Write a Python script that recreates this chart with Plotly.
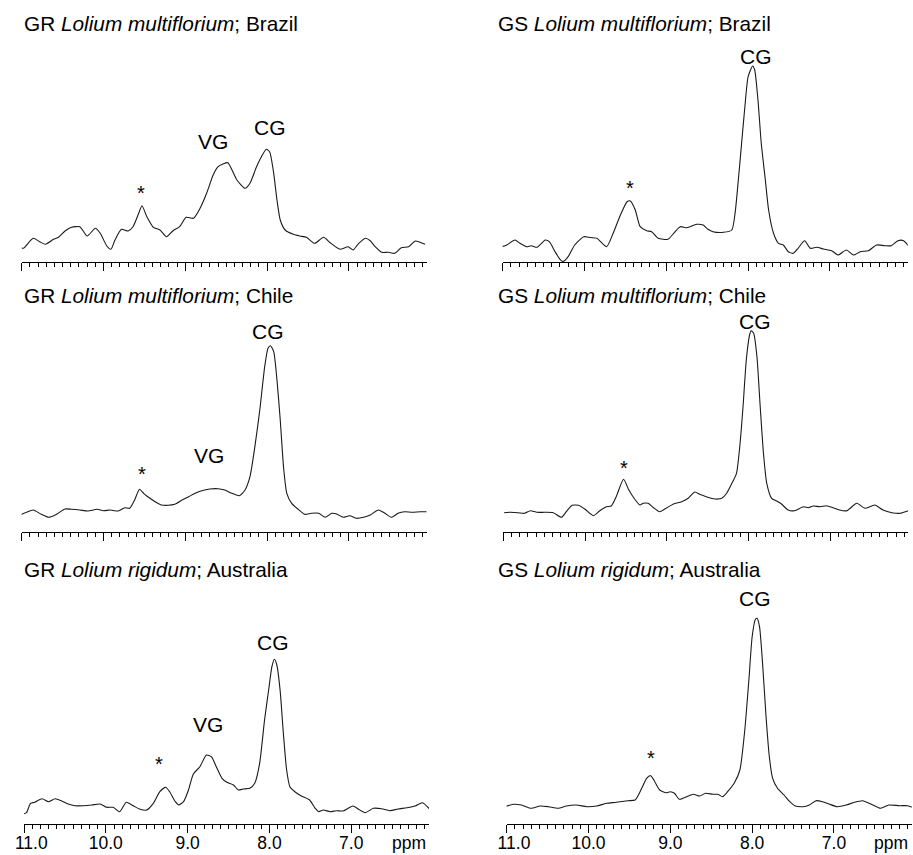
import plotly.graph_objects as go

W, H_FIG = 913, 855

# ---------------- data ----------------
titles = [
    ("GR", "Lolium multiflorium", "Brazil"),
    ("GS", "Lolium multiflorium", "Brazil"),
    ("GR", "Lolium multiflorium", "Chile"),
    ("GS", "Lolium multiflorium", "Chile"),
    ("GR", "Lolium rigidum", "Australia"),
    ("GS", "Lolium rigidum", "Australia"),
]

gr_brazil_ppm = [11.02, 10.98, 10.86, 10.78, 10.71, 10.61, 10.55, 10.47, 10.39, 10.29, 10.20, 10.10, 10.04, 9.96,
                 9.91, 9.86, 9.78, 9.70, 9.64, 9.57, 9.53, 9.47, 9.39, 9.31, 9.23, 9.15, 9.07, 8.99, 8.90, 8.82,
                 8.74, 8.66, 8.60, 8.54, 8.48, 8.43, 8.37, 8.27, 8.21, 8.13, 8.07, 8.01, 7.97, 7.92, 7.88, 7.84,
                 7.78, 7.68, 7.60, 7.52, 7.42, 7.31, 7.23, 7.11, 7.01, 6.95, 6.89, 6.80, 6.74, 6.68, 6.60, 6.52,
                 6.44, 6.36, 6.27, 6.19, 6.13, 6.07]
gr_brazil_int = [14.7, 13.7, 23.7, 20.3, 17.7, 22.7, 24.7, 31.0, 34.7, 35.3, 26.0, 33.7, 28.7, 16.0,
                 12.7, 22.0, 32.7, 31.0, 35.3, 48.7, 56.3, 45.3, 34.7, 32.0, 25.3, 31.3, 35.3, 44.7, 43.7, 53.7,
                 68.7, 87.0, 95.3, 98.0, 99.3, 92.0, 82.0, 73.7, 78.7, 95.3, 105.3, 112.7, 110.3, 88.7, 62.0, 42.0,
                 32.0, 27.7, 26.0, 24.7, 18.7, 24.7, 19.3, 12.7, 15.3, 12.0, 17.7, 23.7, 21.3, 15.3, 9.7, 9.7,
                 8.7, 14.3, 15.3, 21.0, 19.7, 17.7]

gs_brazil_ppm = [11.01, 10.95, 10.85, 10.79, 10.71, 10.65, 10.58, 10.48, 10.43, 10.36, 10.30, 10.26, 10.20, 10.12,
                 10.01, 9.95, 9.85, 9.73, 9.65, 9.57, 9.48, 9.44, 9.38, 9.32, 9.24, 9.18, 9.10, 8.98, 8.91, 8.83,
                 8.75, 8.63, 8.55, 8.49, 8.43, 8.30, 8.20, 8.16, 8.12, 8.08, 8.04, 8.00, 7.945, 7.92, 7.88, 7.84,
                 7.79, 7.75, 7.69, 7.63, 7.57, 7.51, 7.45, 7.39, 7.31, 7.24, 7.16, 7.08, 6.98, 6.90, 6.80, 6.71,
                 6.63, 6.53, 6.43, 6.33, 6.25, 6.17, 6.10, 6.04]
gs_brazil_int = [15.3, 17.0, 22.0, 18.7, 15.3, 16.3, 14.7, 22.0, 20.3, 10.3, 2.7, 0.5, 5.3, 17.0,
                 25.3, 24.7, 23.7, 15.3, 28.7, 45.3, 60.3, 61.0, 52.0, 35.3, 31.3, 30.3, 23.7, 22.7, 28.7, 35.3,
                 34.3, 37.7, 37.0, 32.7, 30.3, 29.7, 32.0, 48.7, 82.0, 118.7, 155.3, 185.3, 196.0, 192.0, 162.0, 118.7,
                 82.0, 52.0, 28.7, 18.7, 17.0, 10.3, 8.7, 13.7, 21.3, 13.7, 14.7, 13.0, 11.3, 7.0, 12.0, 7.0,
                 10.3, 11.3, 17.0, 16.3, 16.3, 21.3, 21.3, 16.0]

gr_chile_ppm = [11.02, 10.94, 10.86, 10.76, 10.67, 10.59, 10.47, 10.39, 10.29, 10.19, 10.08, 10.00, 9.92, 9.82,
                9.74, 9.68, 9.62, 9.56, 9.51, 9.45, 9.37, 9.29, 9.21, 9.13, 9.04, 8.96, 8.88, 8.80, 8.70, 8.60,
                8.52, 8.43, 8.34, 8.27, 8.21, 8.15, 8.09, 8.03, 7.99, 7.96, 7.92, 7.88, 7.84, 7.80, 7.76, 7.70,
                7.62, 7.54, 7.46, 7.37, 7.29, 7.21, 7.15, 7.07, 6.99, 6.91, 6.82, 6.74, 6.64, 6.56, 6.48, 6.40,
                6.32, 6.23, 6.13, 6.05]
gr_chile_int = [17.0, 19.7, 22.0, 17.7, 14.7, 17.0, 23.0, 22.7, 22.0, 21.0, 22.7, 21.3, 22.0, 21.0,
                24.3, 23.7, 32.0, 42.7, 38.7, 34.7, 30.3, 27.0, 26.7, 27.7, 32.0, 35.3, 38.7, 41.3, 43.0, 43.3,
                42.0, 38.7, 36.3, 42.0, 55.3, 85.3, 122.0, 165.3, 183.7, 186.3, 180.3, 152.0, 112.0, 65.3, 38.7, 28.7,
                22.7, 17.7, 18.7, 18.7, 14.7, 18.7, 18.0, 14.7, 16.3, 13.7, 14.7, 17.0, 22.0, 18.7, 14.7, 18.7,
                20.3, 19.7, 20.3, 20.3]

gs_chile_ppm = [10.99, 10.92, 10.82, 10.74, 10.67, 10.59, 10.49, 10.39, 10.29, 10.23, 10.16, 10.08, 10.00, 9.90,
                9.82, 9.74, 9.68, 9.62, 9.53, 9.47, 9.41, 9.33, 9.29, 9.23, 9.17, 9.09, 9.00, 8.92, 8.82, 8.74,
                8.66, 8.60, 8.52, 8.41, 8.33, 8.27, 8.21, 8.15, 8.11, 8.07, 8.03, 7.99, 7.97, 7.94, 7.90, 7.86,
                7.82, 7.78, 7.72, 7.66, 7.60, 7.52, 7.44, 7.33, 7.27, 7.21, 7.13, 7.05, 6.97, 6.89, 6.80, 6.68,
                6.58, 6.46, 6.36, 6.25, 6.15, 6.05]
gs_chile_int = [19.3, 19.7, 19.3, 18.7, 21.3, 19.7, 19.7, 19.3, 14.7, 20.3, 26.7, 26.7, 22.7, 16.3,
                21.3, 25.3, 26.0, 35.3, 52.7, 42.7, 34.7, 27.0, 28.7, 28.7, 24.7, 20.3, 24.3, 28.0, 30.3, 33.7,
                40.0, 37.7, 35.3, 33.0, 33.7, 38.7, 48.0, 58.7, 85.3, 125.3, 172.0, 197.0, 201.3, 198.7, 175.3, 125.3,
                78.7, 48.7, 33.7, 31.0, 28.0, 22.0, 21.3, 25.3, 24.3, 26.0, 25.3, 26.3, 24.3, 22.0, 21.3, 28.7,
                23.7, 27.0, 22.0, 19.3, 18.7, 21.3]

gr_australia_ppm = [11.01, 10.97, 10.92, 10.87, 10.78, 10.70, 10.62, 10.54, 10.46, 10.38, 10.27, 10.17, 10.07, 9.99,
                    9.91, 9.83, 9.75, 9.66, 9.58, 9.50, 9.42, 9.34, 9.27, 9.22, 9.15, 9.11, 9.05, 8.99, 8.93, 8.85,
                    8.77, 8.71, 8.65, 8.58, 8.52, 8.44, 8.38, 8.32, 8.24, 8.18, 8.12, 8.06, 8.01, 7.97, 7.94, 7.91,
                    7.87, 7.83, 7.79, 7.75, 7.69, 7.61, 7.51, 7.44, 7.40, 7.34, 7.26, 7.18, 7.10, 6.98, 6.91, 6.83,
                    6.73, 6.63, 6.53, 6.43, 6.32, 6.22, 6.13, 6.04]
gr_australia_int = [10.0, 11.3, 20.7, 21.7, 25.3, 22.3, 25.3, 23.0, 20.0, 18.3, 18.3, 19.0, 20.0, 16.7,
                    16.7, 12.3, 21.7, 18.0, 14.7, 14.0, 20.7, 32.3, 36.7, 32.3, 22.3, 19.0, 22.3, 34.0, 50.0, 57.3,
                    69.0, 67.3, 57.3, 45.7, 41.7, 39.0, 34.0, 35.0, 35.7, 40.7, 60.7, 104.0, 134.0, 157.3, 164.7, 159.0,
                    134.0, 90.7, 54.0, 37.3, 32.3, 28.0, 24.0, 15.7, 12.3, 14.0, 12.3, 13.3, 13.0, 18.0, 14.7, 11.3,
                    15.7, 15.3, 13.3, 15.0, 16.3, 18.0, 21.3, 14.7]

gs_australia_ppm = [11.02, 10.92, 10.82, 10.70, 10.59, 10.49, 10.37, 10.27, 10.15, 10.02, 9.90, 9.78, 9.66, 9.52,
                    9.43, 9.35, 9.29, 9.24, 9.19, 9.13, 9.05, 9.00, 8.95, 8.89, 8.80, 8.72, 8.64, 8.57, 8.48, 8.42,
                    8.36, 8.30, 8.22, 8.15, 8.09, 8.04, 8.00, 7.96, 7.94, 7.91, 7.87, 7.83, 7.79, 7.75, 7.69, 7.61,
                    7.54, 7.48, 7.38, 7.30, 7.22, 7.14, 7.06, 6.96, 6.85, 6.75, 6.65, 6.55, 6.43, 6.33, 6.20, 6.10,
                    6.04]
gs_australia_int = [17.3, 19.7, 19.0, 15.7, 18.0, 17.3, 15.7, 18.0, 19.0, 17.3, 18.0, 20.7, 21.7, 23.3,
                    24.0, 35.7, 45.7, 48.3, 42.3, 34.0, 31.3, 32.3, 30.7, 24.7, 27.3, 29.7, 28.0, 30.7, 29.7, 29.7,
                    27.3, 32.3, 40.7, 54.0, 94.0, 144.0, 187.3, 204.7, 205.7, 197.3, 157.3, 107.3, 67.3, 45.7, 35.7, 29.0,
                    22.3, 18.3, 17.3, 19.0, 23.3, 22.3, 20.0, 17.3, 19.0, 21.7, 23.3, 20.0, 15.7, 19.0, 18.3, 18.3,
                    16.7]

spectra_ppm = [gr_brazil_ppm, gs_brazil_ppm, gr_chile_ppm, gs_chile_ppm, gr_australia_ppm, gs_australia_ppm]
spectra_int = [gr_brazil_int, gs_brazil_int, gr_chile_int, gs_chile_int, gr_australia_int, gs_australia_int]

# peak labels: (text, ppm, height)
peak_labels = [
    [("*", 9.54, 69), ("VG", 8.66, 120), ("CG", 7.97, 134)],
    [("*", 9.44, 74), ("CG", 7.90, 205)],
    [("*", 9.53, 58), ("VG", 8.71, 76), ("CG", 7.99, 200)],
    [("*", 9.53, 64), ("CG", 7.92, 210)],
    [("*", 9.35, 60), ("VG", 8.75, 100), ("CG", 7.96, 182)],
    [("*", 9.24, 66), ("CG", 7.97, 226)],
]

major_ticks = [11.0, 10.5, 10.0, 9.5, 9.0, 8.5, 8.0, 7.5, 7.0, 6.5]
major_text = ["\u00a0\u00a0\u00a011.0", "", "10.0", "", "9.0", "", "8.0", "", "7.0", ""]
minor_ticks = [11.0 - 0.1 * k for k in range(50)]

# ---------------- layout geometry (pixels) ----------------
X_RANGE = [11.0, 6.05]
AX_W = 405
PANEL_H = 228
panel_x0 = [21.7, 502.7, 21.7, 503.3, 24.0, 506.7]
panel_axis_y = [262, 262, 532, 532, 824, 824]
title_y = [23, 23, 295, 295, 569, 569]
title_x = [22, 496, 22, 496, 22, 496]

FONT = "Liberation Sans, Arial, sans-serif"
TICK_SIZE = 17.5

fig = go.Figure()
layout = dict(
    width=W, height=H_FIG, autosize=False,
    margin=dict(l=0, r=0, t=0, b=0, pad=0, autoexpand=False),
    paper_bgcolor="white", plot_bgcolor="white",
    showlegend=False,
    font=dict(family=FONT, color="black"),
)
annotations = []

for i in range(6):
    n = i + 1
    xa = "x" if n == 1 else f"x{n}"
    ya = "y" if n == 1 else f"y{n}"
    fig.add_trace(go.Scatter(
        x=spectra_ppm[i], y=spectra_int[i], xaxis=xa, yaxis=ya,
        mode="lines", line=dict(color="#1a1a1a", width=1.1, shape="spline", smoothing=0.6),
        hoverinfo="skip", cliponaxis=False,
    ))
    x0 = panel_x0[i] / W
    x1 = (panel_x0[i] + AX_W) / W
    yb = (H_FIG - panel_axis_y[i]) / H_FIG
    yt = (H_FIG - panel_axis_y[i] + PANEL_H) / H_FIG
    bottom = i >= 4
    layout["xaxis" if n == 1 else f"xaxis{n}"] = dict(
        domain=[x0, x1], range=X_RANGE, anchor=ya,
        showline=True, linecolor="black", linewidth=1, mirror=False,
        showgrid=False, zeroline=False, automargin=False,
        tickmode="array", tickvals=major_ticks, ticktext=major_text,
        ticks="outside", ticklen=8, tickwidth=1, tickcolor="black",
        showticklabels=bottom, ticklabelstandoff=-5,
        tickfont=dict(family=FONT, size=TICK_SIZE, color="black"),
        minor=dict(tickmode="array", tickvals=minor_ticks, ticks="outside",
                   ticklen=4, tickwidth=1, tickcolor="black", showgrid=False),
        fixedrange=True,
    )
    layout["yaxis" if n == 1 else f"yaxis{n}"] = dict(
        domain=[yb, yt], range=[0, PANEL_H], anchor=xa, visible=False, fixedrange=True,
        automargin=False,
    )
    g, sp, place = titles[i]
    annotations.append(dict(
        text=f"{g} <i>{sp}</i>; {place}", xref="paper", yref="paper",
        x=title_x[i] / W, y=(H_FIG - title_y[i]) / H_FIG,
        xanchor="left", yanchor="middle", showarrow=False,
        font=dict(family=FONT, size=20.8, color="black"),
    ))
    for (t, px, hy) in peak_labels[i]:
        annotations.append(dict(
            text=t, xref=xa, yref=ya, x=px, y=hy,
            xanchor="center", yanchor="middle", showarrow=False,
            font=dict(family=FONT, size=21 if t != "*" else 20, color="black"),
        ))
    if bottom:
        annotations.append(dict(
            text="ppm", xref=xa, yref="paper", x=6.3, y=(H_FIG - 843) / H_FIG,
            xanchor="center", yanchor="middle", showarrow=False,
            font=dict(family=FONT, size=TICK_SIZE, color="black"),
        ))

layout["annotations"] = annotations
fig.update_layout(**layout)
fig.write_html("out.html", config={"displayModeBar": False},
               post_script="document.body.style.margin='0';")
